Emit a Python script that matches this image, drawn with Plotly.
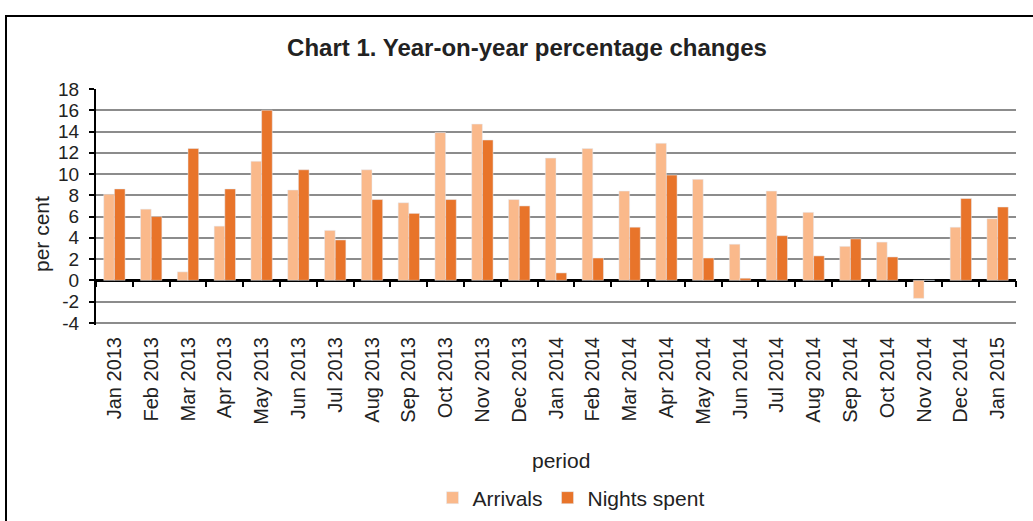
import plotly.graph_objects as go

periods = ["Jan 2013", "Feb 2013", "Mar 2013", "Apr 2013", "May 2013", "Jun 2013",
           "Jul 2013", "Aug 2013", "Sep 2013", "Oct 2013", "Nov 2013", "Dec 2013",
           "Jan 2014", "Feb 2014", "Mar 2014", "Apr 2014", "May 2014", "Jun 2014",
           "Jul 2014", "Aug 2014", "Sep 2014", "Oct 2014", "Nov 2014", "Dec 2014",
           "Jan 2015"]
arrivals = [8.1, 6.7, 0.8, 5.1, 11.2, 8.5, 4.7, 10.4, 7.3, 13.9, 14.7, 7.6,
            11.5, 12.4, 8.4, 12.9, 9.5, 3.4, 8.4, 6.4, 3.2, 3.6, -1.7, 5.0, 5.8]
nights = [8.6, 6.0, 12.4, 8.6, 16.0, 10.4, 3.8, 7.6, 6.3, 7.6, 13.2, 7.0,
          0.7, 2.1, 5.0, 9.9, 2.1, 0.2, 4.2, 2.3, 3.9, 2.2, 0.0, 7.7, 6.9]
y_ticks = list(range(-4, 19, 2))
y_labels = [str(v) for v in y_ticks]

FONT = "Liberation Sans, Arial, sans-serif"
TXT = "#222222"
C_ARR = "#FAB98B"
C_NIG = "#E8742A"

fig = go.Figure()
fig.add_trace(go.Bar(name="Arrivals", x=periods, y=arrivals, marker_color=C_ARR))
fig.add_trace(go.Bar(name="Nights spent", x=periods, y=nights, marker_color=C_NIG))
# invisible helper trace so the tick axis at zero is drawn
fig.add_trace(go.Scatter(x=periods, y=[0] * len(periods), xaxis="x2", mode="markers",
                         marker=dict(opacity=0), showlegend=False, hoverinfo="skip"))

W, H = 1033, 521
ml, mr, mt, mb = 96, 17, 89, 196
pw, ph = W - ml - mr, H - mt - mb
ymin, ymax = -4.2, 18.0

fig.update_layout(
    width=W, height=H,
    margin=dict(l=ml, r=mr, t=mt, b=mb, autoexpand=False),
    paper_bgcolor="white", plot_bgcolor="white",
    font=dict(family=FONT, color=TXT),
    barmode="group", bargap=0.42, bargroupgap=0.0,
    title=dict(text="<b>Chart 1. Year-on-year percentage changes</b>",
               font=dict(size=24, color=TXT),
               x=(527 - ml) / pw, xref="paper", xanchor="center",
               y=1 - 48 / H, yanchor="middle"),
    xaxis=dict(type="category", categoryorder="array", categoryarray=periods,
               range=[-0.5, len(periods) - 0.5], tickangle=-90, ticks="",
               showline=False, showgrid=False, zeroline=False, automargin=False,
               tickfont=dict(size=20, color=TXT), ticklabelstandoff=7),
    xaxis2=dict(type="category", categoryorder="array", categoryarray=periods,
                range=[-0.5, len(periods) - 0.5], overlaying="x", anchor="free",
                position=(0 - ymin) / (ymax - ymin), side="bottom",
                ticks="outside", tickson="boundaries", ticklen=6, tickwidth=2,
                tickcolor="black", showticklabels=False, showline=False,
                showgrid=False, zeroline=False, automargin=False),
    yaxis=dict(range=[ymin, ymax], tickvals=y_ticks, ticktext=y_labels,
               ticks="outside", ticklen=5, automargin=False,
               tickwidth=2, tickcolor="black", showline=True, linecolor="black",
               linewidth=2, showgrid=True, gridcolor="#8C8C8C", gridwidth=2,
               zeroline=True, zerolinecolor="black", zerolinewidth=2.5,
               tickfont=dict(size=19, color=TXT), ticklabelstandoff=6),
    legend=dict(orientation="h", x=(571 - ml) / pw, xanchor="center",
                y=(mt + ph - 498) / ph, yanchor="middle",
                font=dict(size=21, color=TXT), itemwidth=30,
                traceorder="normal"),
    showlegend=True,
)

fig.add_annotation(text="period", xref="paper", yref="paper",
                   x=(561 - ml) / pw, y=(mt + ph - 460) / ph,
                   showarrow=False, font=dict(size=21, color=TXT),
                   xanchor="center", yanchor="middle")
fig.add_annotation(text="per cent", xref="paper", yref="paper", textangle=-90,
                   x=(42 - ml) / pw, y=(mt + ph - 234) / ph,
                   showarrow=False, font=dict(size=21, color=TXT),
                   xanchor="center", yanchor="middle")

# outer chart frame
fig.add_shape(type="rect", xref="paper", yref="paper",
              x0=(6 - ml) / pw, x1=(W + 20 - ml) / pw,
              y0=(mt + ph - (H + 20)) / ph, y1=(mt + ph - 16) / ph,
              line=dict(color="black", width=2), fillcolor="rgba(0,0,0,0)",
              layer="below")

fig.write_html("out.html", config={"displayModeBar": False},
               post_script="document.body.style.margin='0';document.body.style.overflow='hidden';")
